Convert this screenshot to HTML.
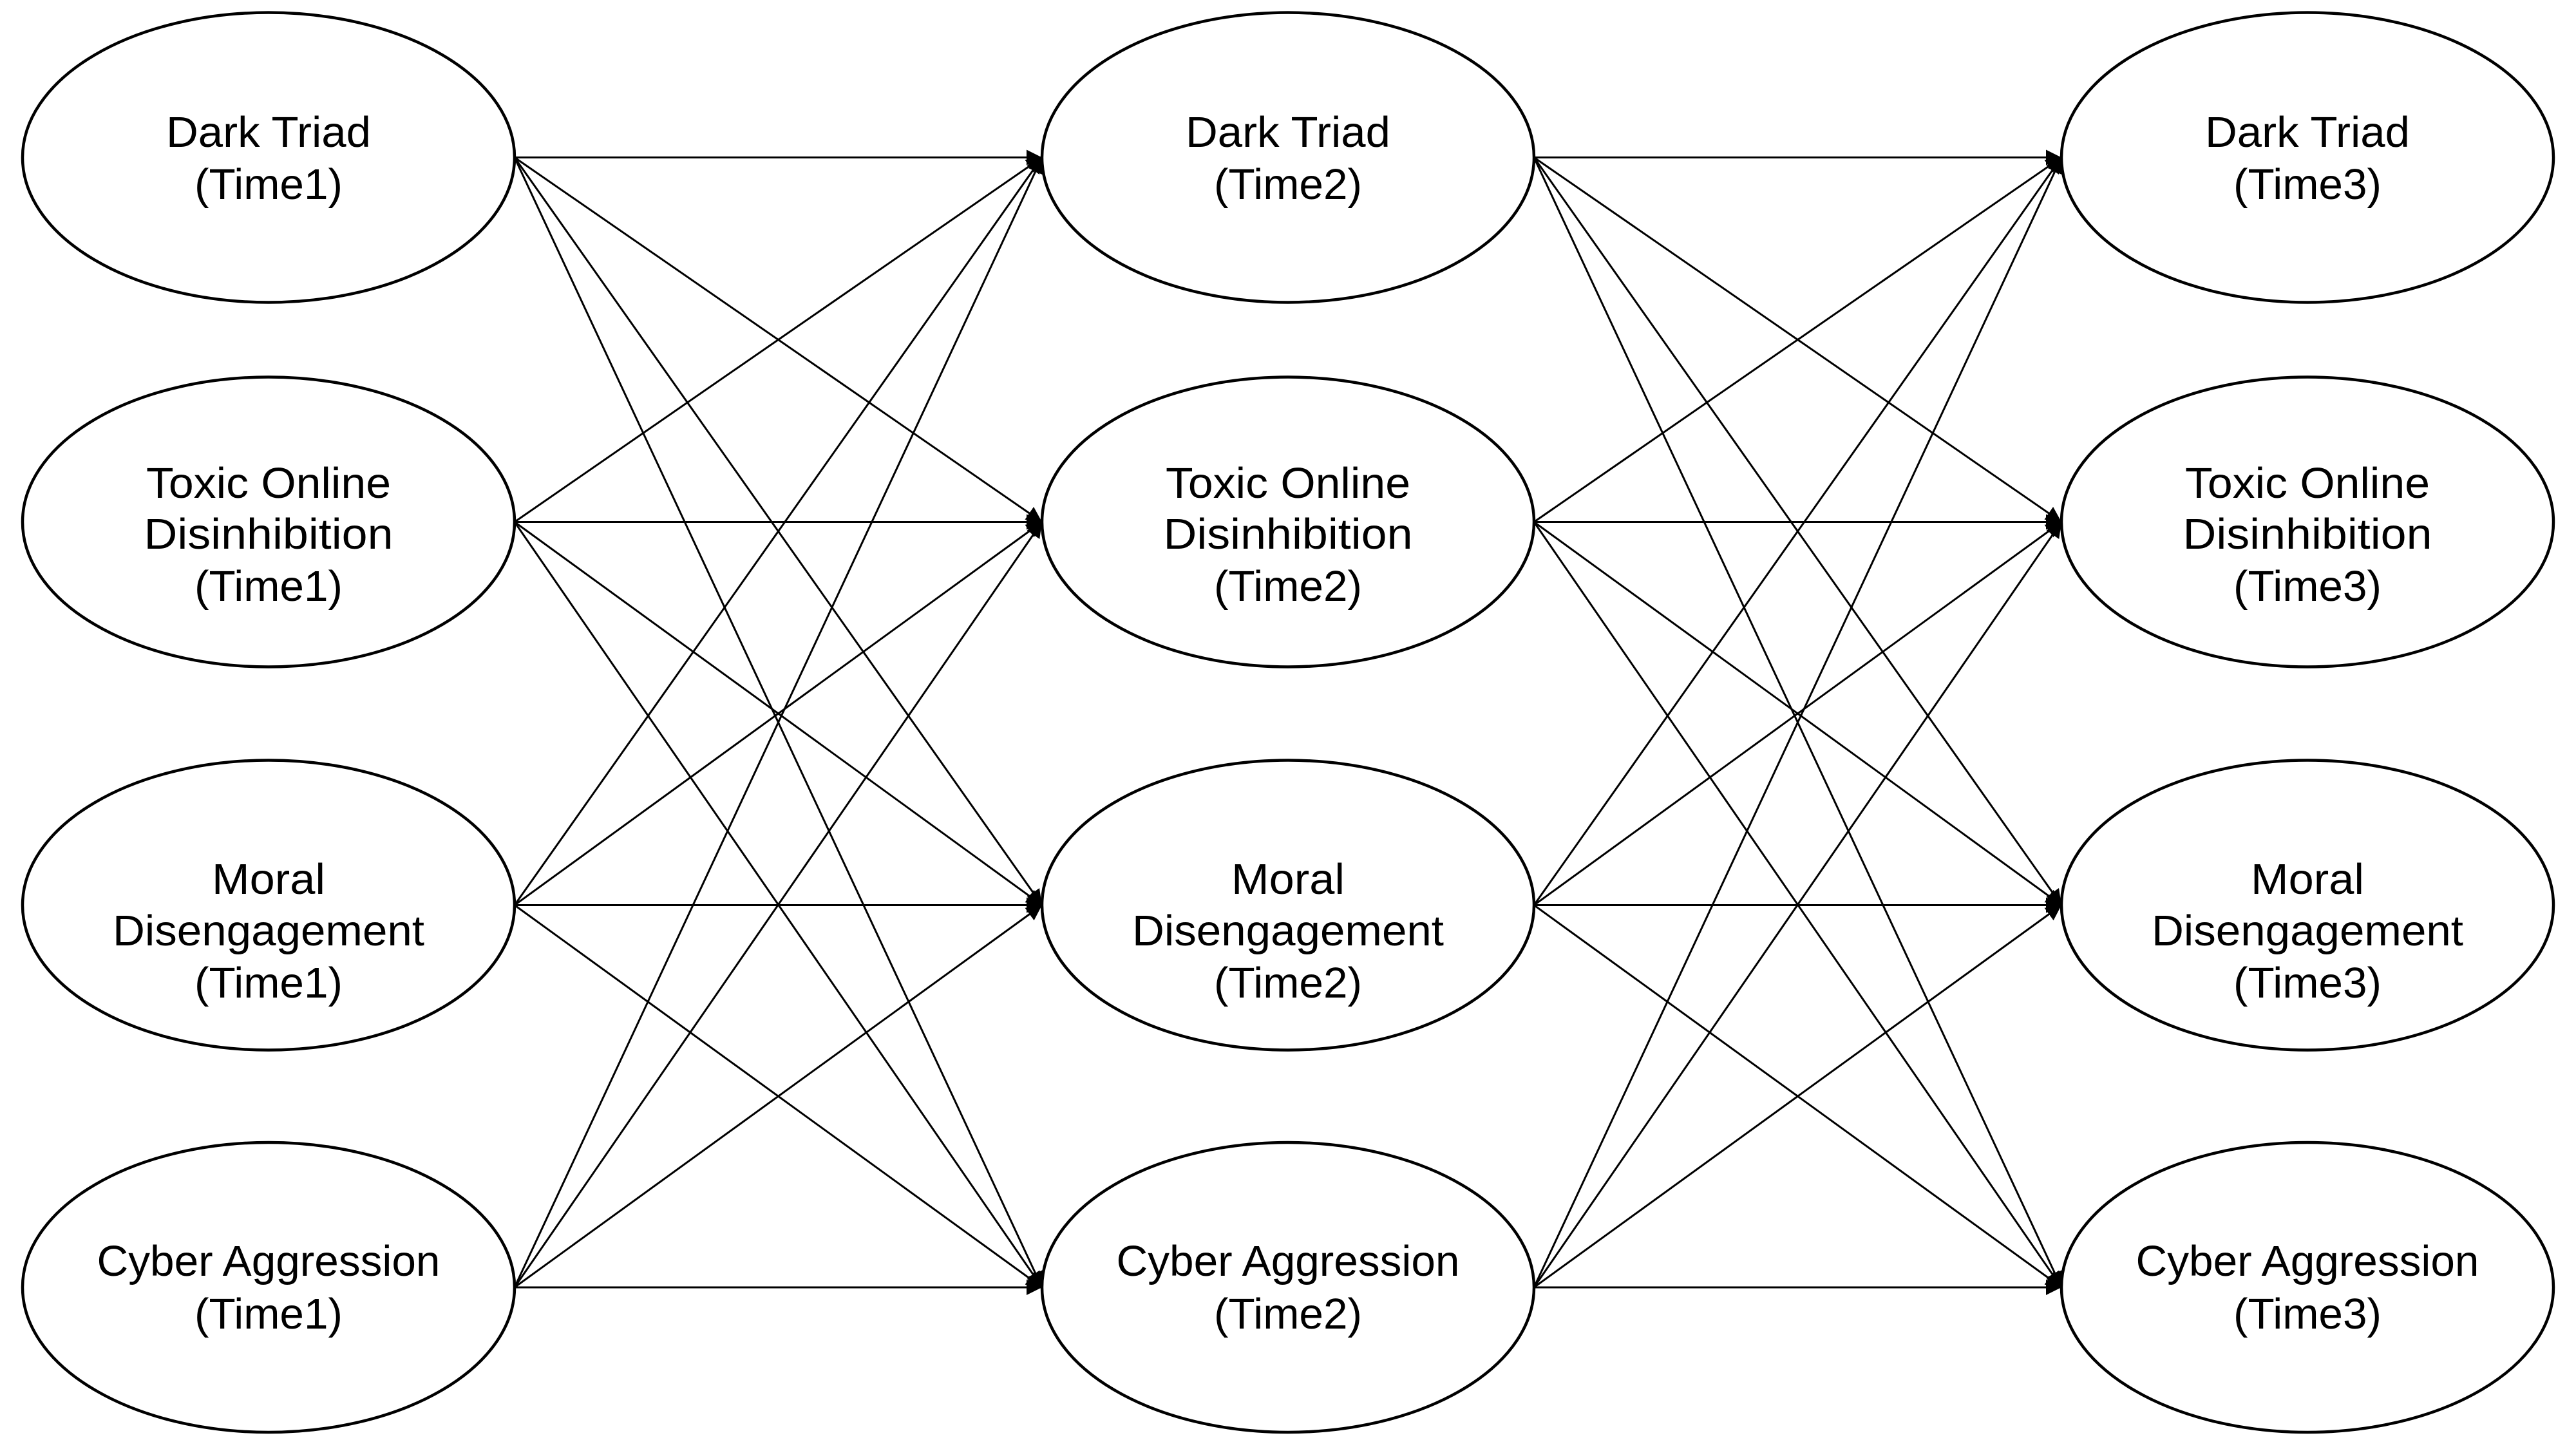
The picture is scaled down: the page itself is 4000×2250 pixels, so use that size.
<!DOCTYPE html>
<html>
<head>
<meta charset="utf-8">
<style>
html,body{margin:0;padding:0;background:#fff;}
svg{display:block;}
text{font-family:"Liberation Sans",Arial,sans-serif;font-size:67px;fill:#000;}
</style>
</head>
<body>
<svg width="4000" height="2250" viewBox="0 0 4000 2250" xmlns="http://www.w3.org/2000/svg">
<defs>
<marker id="a" markerUnits="userSpaceOnUse" markerWidth="30" markerHeight="30" refX="24" refY="12" orient="auto">
<path d="M0,0 L24,12 L0,24 Z" fill="#000"/>
</marker>
</defs>
<rect width="4000" height="2250" fill="#fff"/>

<g fill="#fff" stroke="#000" stroke-width="4.5">
<ellipse cx="417" cy="244.5" rx="382" ry="225"/>
<ellipse cx="417" cy="810.5" rx="382" ry="225"/>
<ellipse cx="417" cy="1405.5" rx="382" ry="225"/>
<ellipse cx="417" cy="1999" rx="382" ry="225"/>
<ellipse cx="2000" cy="244.5" rx="382" ry="225"/>
<ellipse cx="2000" cy="810.5" rx="382" ry="225"/>
<ellipse cx="2000" cy="1405.5" rx="382" ry="225"/>
<ellipse cx="2000" cy="1999" rx="382" ry="225"/>
<ellipse cx="3583" cy="244.5" rx="382" ry="225"/>
<ellipse cx="3583" cy="810.5" rx="382" ry="225"/>
<ellipse cx="3583" cy="1405.5" rx="382" ry="225"/>
<ellipse cx="3583" cy="1999" rx="382" ry="225"/>
</g>

<g stroke="#000" stroke-width="3" marker-end="url(#a)">
<!-- gap 1 -->
<line x1="799" y1="244.5" x2="1618" y2="244.5"/>
<line x1="799" y1="244.5" x2="1618" y2="810.5"/>
<line x1="799" y1="244.5" x2="1618" y2="1405.5"/>
<line x1="799" y1="244.5" x2="1618" y2="1999"/>
<line x1="799" y1="810.5" x2="1618" y2="244.5"/>
<line x1="799" y1="810.5" x2="1618" y2="810.5"/>
<line x1="799" y1="810.5" x2="1618" y2="1405.5"/>
<line x1="799" y1="810.5" x2="1618" y2="1999"/>
<line x1="799" y1="1405.5" x2="1618" y2="244.5"/>
<line x1="799" y1="1405.5" x2="1618" y2="810.5"/>
<line x1="799" y1="1405.5" x2="1618" y2="1405.5"/>
<line x1="799" y1="1405.5" x2="1618" y2="1999"/>
<line x1="799" y1="1999" x2="1618" y2="244.5"/>
<line x1="799" y1="1999" x2="1618" y2="810.5"/>
<line x1="799" y1="1999" x2="1618" y2="1405.5"/>
<line x1="799" y1="1999" x2="1618" y2="1999"/>
<!-- gap 2 -->
<line x1="2382" y1="244.5" x2="3201" y2="244.5"/>
<line x1="2382" y1="244.5" x2="3201" y2="810.5"/>
<line x1="2382" y1="244.5" x2="3201" y2="1405.5"/>
<line x1="2382" y1="244.5" x2="3201" y2="1999"/>
<line x1="2382" y1="810.5" x2="3201" y2="244.5"/>
<line x1="2382" y1="810.5" x2="3201" y2="810.5"/>
<line x1="2382" y1="810.5" x2="3201" y2="1405.5"/>
<line x1="2382" y1="810.5" x2="3201" y2="1999"/>
<line x1="2382" y1="1405.5" x2="3201" y2="244.5"/>
<line x1="2382" y1="1405.5" x2="3201" y2="810.5"/>
<line x1="2382" y1="1405.5" x2="3201" y2="1405.5"/>
<line x1="2382" y1="1405.5" x2="3201" y2="1999"/>
<line x1="2382" y1="1999" x2="3201" y2="244.5"/>
<line x1="2382" y1="1999" x2="3201" y2="810.5"/>
<line x1="2382" y1="1999" x2="3201" y2="1405.5"/>
<line x1="2382" y1="1999" x2="3201" y2="1999"/>
</g>

<g text-anchor="middle">
<!-- Column 1 -->
<text x="417" y="228" textLength="318" lengthAdjust="spacingAndGlyphs">Dark Triad</text>
<text x="417" y="309" textLength="230" lengthAdjust="spacingAndGlyphs">(Time1)</text>
<text x="417" y="773" textLength="380" lengthAdjust="spacingAndGlyphs">Toxic Online</text>
<text x="417" y="852" textLength="387" lengthAdjust="spacingAndGlyphs">Disinhibition</text>
<text x="417" y="933" textLength="230" lengthAdjust="spacingAndGlyphs">(Time1)</text>
<text x="417" y="1388" textLength="176" lengthAdjust="spacingAndGlyphs">Moral</text>
<text x="417" y="1468" textLength="484" lengthAdjust="spacingAndGlyphs">Disengagement</text>
<text x="417" y="1549" textLength="230" lengthAdjust="spacingAndGlyphs">(Time1)</text>
<text x="417" y="1981" textLength="533" lengthAdjust="spacingAndGlyphs">Cyber Aggression</text>
<text x="417" y="2063" textLength="230" lengthAdjust="spacingAndGlyphs">(Time1)</text>
<!-- Column 2 -->
<text x="2000" y="228" textLength="318" lengthAdjust="spacingAndGlyphs">Dark Triad</text>
<text x="2000" y="309" textLength="230" lengthAdjust="spacingAndGlyphs">(Time2)</text>
<text x="2000" y="773" textLength="380" lengthAdjust="spacingAndGlyphs">Toxic Online</text>
<text x="2000" y="852" textLength="387" lengthAdjust="spacingAndGlyphs">Disinhibition</text>
<text x="2000" y="933" textLength="230" lengthAdjust="spacingAndGlyphs">(Time2)</text>
<text x="2000" y="1388" textLength="176" lengthAdjust="spacingAndGlyphs">Moral</text>
<text x="2000" y="1468" textLength="484" lengthAdjust="spacingAndGlyphs">Disengagement</text>
<text x="2000" y="1549" textLength="230" lengthAdjust="spacingAndGlyphs">(Time2)</text>
<text x="2000" y="1981" textLength="533" lengthAdjust="spacingAndGlyphs">Cyber Aggression</text>
<text x="2000" y="2063" textLength="230" lengthAdjust="spacingAndGlyphs">(Time2)</text>
<!-- Column 3 -->
<text x="3583" y="228" textLength="318" lengthAdjust="spacingAndGlyphs">Dark Triad</text>
<text x="3583" y="309" textLength="230" lengthAdjust="spacingAndGlyphs">(Time3)</text>
<text x="3583" y="773" textLength="380" lengthAdjust="spacingAndGlyphs">Toxic Online</text>
<text x="3583" y="852" textLength="387" lengthAdjust="spacingAndGlyphs">Disinhibition</text>
<text x="3583" y="933" textLength="230" lengthAdjust="spacingAndGlyphs">(Time3)</text>
<text x="3583" y="1388" textLength="176" lengthAdjust="spacingAndGlyphs">Moral</text>
<text x="3583" y="1468" textLength="484" lengthAdjust="spacingAndGlyphs">Disengagement</text>
<text x="3583" y="1549" textLength="230" lengthAdjust="spacingAndGlyphs">(Time3)</text>
<text x="3583" y="1981" textLength="533" lengthAdjust="spacingAndGlyphs">Cyber Aggression</text>
<text x="3583" y="2063" textLength="230" lengthAdjust="spacingAndGlyphs">(Time3)</text>
</g>
</svg>
</body>
</html>
